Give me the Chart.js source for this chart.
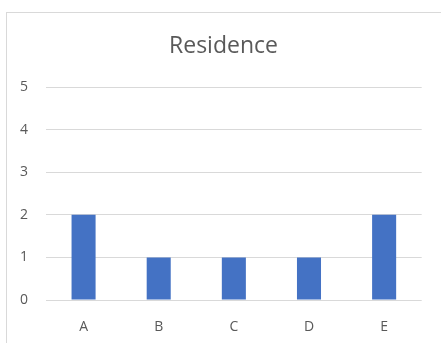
<!DOCTYPE html>
<html>
<head>
<meta charset="utf-8">
<script src="https://cdn.jsdelivr.net/npm/chart.js@4/dist/chart.umd.min.js"></script>
<style>
  html, body { margin:0; padding:0; background:#fff; overflow:hidden; }
  #frame { position:absolute; left:6px; top:12px; width:434px; height:340px; border:1px solid #d9d9d9; border-bottom:none; }
  #wrap { position:absolute; left:0; top:0; width:441px; height:343px; }
</style>
</head>
<body>
<div id="frame"></div>
<div id="wrap"><canvas id="chart" width="441" height="343"></canvas></div>
<script>
// Residence counts per category
const CATEGORIES = ["A", "B", "C", "D", "E"];
const COUNTS = [2, 1, 1, 1, 2];
const Y_TICKS = [0, 1, 2, 3, 4, 5];

const TEXT = "#595959";
const GRID = "#d9d9d9";

new Chart(document.getElementById("chart"), {
  type: "bar",
  data: {
    labels: CATEGORIES,
    datasets: [{
      data: COUNTS,
      backgroundColor: "#4472c4",
      borderWidth: 0,
      barPercentage: 0.32,
      categoryPercentage: 1
    }]
  },
  options: {
    responsive: false,
    animation: false,
    events: [],
    layout: { padding: { left: 6, right: 0, top: 0, bottom: 0 } },
    plugins: {
      legend: { display: false },
      tooltip: { enabled: false },
      title: {
        display: true,
        text: "Residence",
        color: TEXT,
        font: { family: "Open Sans", size: 23, weight: "normal" },
        padding: { top: 33, bottom: 26.4 }
      }
    },
    scales: {
      x: {
        grid: { display: false },
        border: { display: false },
        ticks: { color: TEXT, font: { family: "Open Sans", size: 14 }, padding: 11 },
        afterFit: s => { s.height = 43; }
      },
      y: {
        min: 0, max: 5,
        afterBuildTicks: s => { s.ticks = Y_TICKS.map(v => ({ value: v })); },
        grid: { color: GRID, lineWidth: 1, drawTicks: false },
        border: { display: false },
        ticks: { color: TEXT, font: { family: "Open Sans", size: 14 }, padding: 18 },
        afterFit: s => { s.width = 40; }
      },
      // empty right-hand spacer so the title centres on the frame
      yr: {
        position: "right",
        display: true,
        grid: { display: false },
        border: { display: false },
        ticks: { display: false },
        afterFit: s => { s.width = 19.3; }
      }
    }
  }
});
</script>
</body>
</html>
